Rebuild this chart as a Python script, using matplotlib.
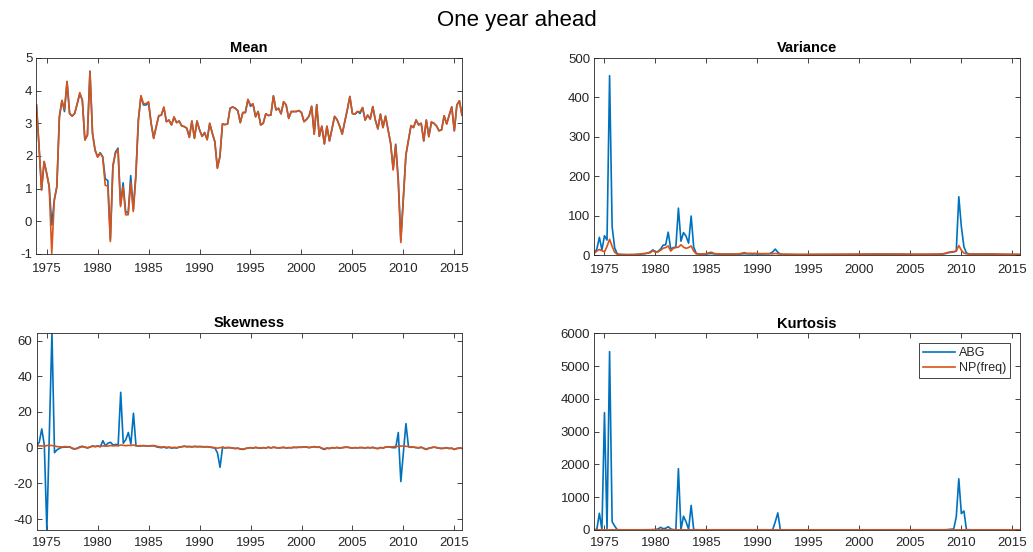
import numpy as np
import matplotlib
matplotlib.use('Agg')
import matplotlib.pyplot as plt

# quarterly forecasts, 1974Q1 .. 2015Q4, one row per year
start_year = 1974
n_years = 42

mean_abg = [
    3.56, 2.30, 0.96, 1.83,
    1.47, 1.06, -0.11, 0.65,
    1.06, 3.20, 3.70, 3.36,
    4.28, 3.30, 3.22, 3.30,
    3.60, 3.90, 3.72, 2.49,
    2.64, 4.60, 2.69, 2.18,
    1.98, 2.10, 1.98, 1.30,
    1.25, -0.55, 1.70, 2.12,
    2.24, 0.50, 1.18, 0.30,
    0.25, 1.40, 0.35, 1.40,
    3.10, 3.82, 3.56, 3.56,
    3.62, 3.00, 2.54, 2.90,
    3.23, 3.25, 3.48, 3.05,
    3.10, 2.95, 3.18, 3.02,
    3.07, 2.92, 2.90, 2.85,
    2.57, 3.07, 2.54, 3.07,
    2.80, 2.60, 2.72, 2.50,
    3.00, 2.70, 2.44, 1.64,
    1.98, 2.98, 2.96, 2.98,
    3.46, 3.50, 3.46, 3.39,
    3.02, 3.33, 3.33, 3.73,
    3.52, 3.58, 3.20, 3.36,
    2.95, 3.00, 3.29, 3.24,
    3.25, 3.84, 3.41, 3.46,
    3.29, 3.66, 3.56, 3.15,
    3.36, 3.36, 3.36, 3.39,
    3.33, 3.05, 3.12, 3.22,
    3.52, 2.67, 3.57, 2.60,
    2.91, 2.37, 2.91, 2.46,
    2.83, 3.21, 3.11, 2.91,
    2.67, 3.05, 3.41, 3.82,
    3.30, 3.28, 3.36, 3.30,
    3.48, 3.10, 3.25, 3.13,
    3.51, 3.10, 2.83, 3.28,
    2.87, 3.22, 2.80, 2.39,
    1.60, 2.36, 1.30, -0.58,
    0.75, 2.03, 2.49, 2.93,
    2.87, 3.10, 2.95, 3.00,
    2.46, 3.10, 2.59, 3.02,
    3.00, 2.92, 2.77, 2.80,
    3.23, 2.98, 3.25, 3.50,
    2.77, 3.56, 3.69, 3.25,
]

mean_np = [
    3.56, 2.30, 0.96, 1.83,
    1.47, 1.06, -0.98, 0.65,
    1.06, 3.20, 3.70, 3.42,
    4.28, 3.30, 3.22, 3.30,
    3.60, 3.94, 3.70, 2.49,
    2.64, 4.58, 2.69, 2.18,
    1.96, 2.08, 1.96, 1.10,
    1.08, -0.62, 1.67, 2.08,
    2.20, 0.45, 1.06, 0.20,
    0.20, 1.20, 0.30, 1.37,
    3.10, 3.85, 3.60, 3.60,
    3.66, 3.00, 2.54, 2.90,
    3.23, 3.25, 3.50, 3.05,
    3.10, 2.95, 3.20, 3.02,
    3.07, 2.92, 2.90, 2.85,
    2.57, 3.07, 2.54, 3.07,
    2.80, 2.60, 2.70, 2.50,
    3.00, 2.70, 2.44, 1.62,
    1.98, 2.98, 2.96, 2.98,
    3.46, 3.50, 3.46, 3.39,
    3.02, 3.33, 3.33, 3.73,
    3.56, 3.60, 3.20, 3.36,
    2.95, 3.00, 3.29, 3.24,
    3.25, 3.84, 3.41, 3.46,
    3.29, 3.66, 3.56, 3.15,
    3.36, 3.36, 3.36, 3.39,
    3.33, 3.05, 3.12, 3.22,
    3.52, 2.67, 3.57, 2.60,
    2.91, 2.37, 2.91, 2.46,
    2.83, 3.21, 3.11, 2.91,
    2.67, 3.05, 3.41, 3.82,
    3.30, 3.28, 3.36, 3.35,
    3.48, 3.10, 3.25, 3.13,
    3.51, 3.10, 2.83, 3.28,
    2.87, 3.22, 2.80, 2.39,
    1.57, 2.33, 1.20, -0.65,
    0.70, 2.03, 2.49, 2.93,
    2.87, 3.10, 2.95, 3.00,
    2.46, 3.10, 2.59, 3.05,
    3.00, 2.92, 2.77, 2.80,
    3.23, 2.98, 3.25, 3.50,
    2.77, 3.56, 3.69, 3.25,
]

var_abg = [
    5, 15, 45, 13,
    49, 38, 455, 72,
    18, 3, 1.5, 1.2,
    1.0, 0.8, 0.9, 1.0,
    1.2, 1.5, 2.0, 3.0,
    3.5, 5.0, 8.0, 13.0,
    8, 9, 15, 25,
    26, 58, 15, 19,
    20, 119, 35, 57,
    48, 30, 99, 20,
    4, 3, 2.5, 2.5,
    2.5, 3.5, 4.0, 3.0,
    2.5, 2.0, 2.0, 2.0,
    2.0, 2.0, 2.2, 2.0,
    2.0, 2.5, 3.0, 3.5,
    3.0, 3.0, 2.5, 3.0,
    2.5, 2.5, 2.8, 3.0,
    3.0, 4.0, 8.0, 15.0,
    7.0, 2.0, 1.5, 1.5,
    1.5, 1.2, 1.2, 1.0,
    1.0, 1.0, 0.9, 1.0,
    1.0, 1.1, 1.2, 1.2,
    1.2, 1.3, 1.2, 1.2,
    1.1, 1.2, 1.3, 1.3,
    1.3, 1.4, 1.4, 1.5,
    1.5, 1.5, 1.6, 1.6,
    1.6, 1.7, 1.8, 1.8,
    1.8, 2.0, 2.0, 2.0,
    2.0, 2.2, 2.2, 2.0,
    2.0, 2.2, 2.0, 1.8,
    1.8, 1.7, 1.6, 1.5,
    1.5, 1.5, 1.4, 1.4,
    1.5, 1.5, 1.5, 1.6,
    1.6, 1.7, 1.8, 2.0,
    2.0, 3.0, 4.0, 6.0,
    7.0, 8.0, 10.0, 148.0,
    72.0, 21.0, 5.0, 3.0,
    2.5, 2.5, 2.2, 2.2,
    2.2, 2.0, 2.2, 2.5,
    2.2, 2.0, 1.8, 1.8,
    1.6, 1.5, 1.5, 1.4,
    1.4, 1.3, 1.3, 1.3,
]

var_np = [
    5, 10, 14, 11,
    8, 22, 40, 22,
    7, 2, 1.5, 1.2,
    1.0, 1.0, 1.0, 1.1,
    1.3, 1.8, 2.5, 3.5,
    4, 5, 6, 11,
    7, 8, 12, 17,
    19, 23, 10, 17,
    19, 20, 26, 20,
    17, 19, 23, 10,
    3, 2.5, 2.5, 3,
    3.5, 6, 7, 4,
    3, 2.5, 2.5, 2.5,
    2.5, 2.5, 2.5, 2.5,
    2.5, 3, 5, 6,
    4, 4.5, 4, 4.5,
    4, 3.5, 3.5, 3.5,
    3.5, 3, 3, 4,
    3, 2.5, 2, 2,
    2, 1.8, 1.8, 1.6,
    1.6, 1.6, 1.5, 1.6,
    1.6, 1.7, 1.8, 1.8,
    1.8, 1.9, 1.8, 1.8,
    1.7, 1.8, 1.9, 1.9,
    1.9, 2.0, 2.0, 2.1,
    2.1, 2.1, 2.2, 2.2,
    2.2, 2.3, 2.4, 2.4,
    2.4, 2.6, 2.6, 2.6,
    2.6, 2.8, 2.8, 2.6,
    2.6, 2.8, 2.6, 2.4,
    2.4, 2.3, 2.2, 2.1,
    2.1, 2.1, 2.0, 2.0,
    2.1, 2.1, 2.1, 2.2,
    2.2, 2.3, 2.4, 2.5,
    2.5, 3.5, 5.0, 7.0,
    8.0, 8.5, 10.0, 24.0,
    12.0, 5.0, 3.0, 2.5,
    2.5, 2.5, 2.4, 2.4,
    2.4, 2.3, 2.5, 3.0,
    2.6, 2.4, 2.2, 2.2,
    2.0, 1.9, 1.9, 1.8,
    1.8, 1.7, 1.7, 1.7,
]

skew_abg = [
    1.0, 3.0, 10.5, 1.5,
    -46.1, 8.0, 64.4, -2.8,
    -1.2, -0.3, 0.2, 0.3,
    0.3, 0.5, -0.5, -0.8,
    -0.3, 0.5, 0.8, 0.2,
    -0.2, 0.4, 1.0, 0.6,
    1.0, 0.5, 3.9, 1.0,
    2.5, 3.0, 1.5, 1.8,
    1.5, 31.0, 2.5, 4.5,
    8.5, 2.0, 19.3, 1.0,
    1.0, 1.0, 1.2, 1.0,
    1.0, 1.0, 1.1, 0.5,
    0.2, 0.0, 0.3, -0.2,
    0.2, -0.3, 0.0, -0.2,
    0.3, 0.5, 0.8, 0.5,
    0.6, 0.4, 0.7, 0.5,
    0.6, 0.5, 0.4, 0.5,
    0.3, 0.0, -0.2, -3.0,
    -11.0, 0.3, -0.2, 0.0,
    0.0, -0.3, -0.5, -0.3,
    -0.8, -1.0, -0.5, -0.2,
    0.0, -0.3, 0.2, -0.2,
    -0.3, 0.0, -0.2, 0.3,
    -0.2, 0.3, 0.0, -0.2,
    0.0, 0.2, -0.2, 0.0,
    -0.1, 0.2, 0.1, 0.3,
    0.2, 0.5, 0.3, 0.0,
    0.3, 0.6, 0.2, 0.4,
    -0.5, -1.0, -0.3, -0.5,
    0.0, -0.2, 0.1, -0.3,
    0.0, 0.2, 0.3, 0.0,
    -0.2, 0.0, -0.1, 0.1,
    0.0, -0.2, 0.1, -0.1,
    0.2, -0.3, -0.5, 0.1,
    -0.2, 0.3, 0.5, 0.2,
    0.0, 0.0, 8.5, -19.0,
    -3.0, 13.5, 0.5, 0.2,
    0.3, 0.0, -0.2, 0.3,
    -0.5, -1.0, -0.3, 0.0,
    0.3, 0.0, -0.3, -0.5,
    -0.3, 0.0, -0.5, -0.3,
    -1.0, -0.5, -0.2, -0.4,
]

skew_np = [
    1.0, 1.0, 1.0, 0.8,
    1.2, 1.3, 1.2, 1.0,
    0.6, 0.5, 0.4, 0.6,
    0.5, 0.3, -0.3, -0.6,
    -0.4, 0.2, 0.5, 0.3,
    0.0, 0.4, 0.8, 0.6,
    0.8, 0.7, 1.0, 0.9,
    0.9, 1.2, 1.0, 1.1,
    1.0, 1.5, 1.3, 1.1,
    1.3, 1.2, 1.5, 1.1,
    1.0, 1.1, 1.0, 1.0,
    1.0, 1.1, 1.2, 0.8,
    0.5, 0.3, 0.5, 0.2,
    0.3, 0.0, 0.2, 0.0,
    0.3, 0.6, 0.8, 0.6,
    0.7, 0.5, 0.7, 0.6,
    0.6, 0.6, 0.5, 0.6,
    0.4, 0.2, 0.0, -0.3,
    0.0, 0.2, -0.1, 0.1,
    0.0, -0.2, -0.4, -0.3,
    -0.7, -0.8, -0.5, -0.2,
    0.0, -0.2, 0.1, -0.1,
    -0.2, 0.0, -0.2, 0.2,
    -0.1, 0.2, 0.0, -0.1,
    0.0, 0.1, -0.1, 0.0,
    0.0, 0.2, 0.1, 0.2,
    0.2, 0.4, 0.3, 0.1,
    0.3, 0.5, 0.2, 0.3,
    -0.3, -0.6, -0.2, -0.4,
    0.0, -0.1, 0.1, -0.2,
    0.0, 0.2, 0.2, 0.0,
    -0.2, 0.0, -0.1, 0.0,
    0.0, -0.1, 0.1, -0.1,
    0.1, -0.3, -0.5, 0.0,
    -0.2, 0.3, 0.5, 0.4,
    0.5, 0.7, 0.8, 0.9,
    0.9, 0.8, 0.6, 0.4,
    0.3, 0.1, 0.0, 0.2,
    -0.3, -0.8, -0.3, 0.0,
    0.3, 0.1, -0.2, -0.4,
    -0.3, -0.1, -0.4, -0.3,
    -0.9, -0.4, -0.3, -0.3,
]

kurt_abg = [
    10, 20, 510, 5,
    3580, 5, 5440, 255,
    120, 8, 5, 5,
    4, 4, 4, 4,
    5, 5, 6, 6,
    6, 6, 8, 10,
    15, 30, 80, 40,
    50, 100, 30, 10,
    10, 1870, 10, 420,
    250, 20, 750, 10,
    6, 5, 5, 5,
    5, 6, 6, 5,
    5, 4, 4, 4,
    4, 4, 5, 4,
    5, 5, 6, 5,
    5, 5, 5, 5,
    5, 5, 5, 5,
    5, 6, 10, 250,
    520, 6, 5, 4,
    4, 4, 4, 4,
    4, 5, 4, 4,
    4, 4, 4, 4,
    4, 4, 4, 4,
    4, 4, 4, 4,
    4, 4, 4, 4,
    4, 4, 4, 4,
    4, 4, 4, 4,
    4, 5, 4, 5,
    5, 6, 5, 5,
    5, 5, 5, 5,
    4, 4, 4, 4,
    4, 4, 4, 4,
    4, 4, 4, 4,
    4, 5, 5, 4,
    5, 6, 8, 15,
    20, 30, 400, 1560,
    500, 580, 10, 6,
    5, 5, 5, 5,
    5, 6, 5, 5,
    5, 5, 5, 5,
    4, 4, 5, 5,
    6, 5, 5, 5,
]

kurt_np = [
    4, 4, 5, 4,
    5, 5, 6, 5,
    4, 3, 3, 3,
    3, 3, 3, 3,
    3, 3, 3, 3,
    3, 3, 4, 4,
    4, 4, 4, 4,
    4, 5, 4, 4,
    4, 5, 4, 5,
    5, 4, 5, 4,
    3, 3, 3, 3,
    3, 4, 4, 3,
    3, 3, 3, 3,
    3, 3, 3, 3,
    3, 3, 4, 4,
    3, 3, 3, 3,
    3, 3, 3, 3,
    3, 3, 3, 4,
    4, 3, 3, 3,
    3, 3, 3, 3,
    3, 3, 3, 3,
    3, 3, 3, 3,
    3, 3, 3, 3,
    3, 3, 3, 3,
    3, 3, 3, 3,
    3, 3, 3, 3,
    3, 3, 3, 3,
    3, 3, 3, 3,
    3, 4, 3, 3,
    3, 3, 3, 3,
    3, 3, 3, 3,
    3, 3, 3, 3,
    3, 3, 3, 3,
    3, 3, 3, 3,
    3, 3, 4, 4,
    4, 4, 5, 6,
    5, 4, 3, 3,
    3, 3, 3, 3,
    3, 3, 3, 3,
    3, 3, 3, 3,
    3, 3, 3, 3,
    3, 3, 3, 3,
]

dates = start_year + np.arange(n_years * 4) / 4.0

c_abg = '#0072BD'
c_np = '#D95319'
axcol = '0.15'

plt.rcParams['font.family'] = ['Liberation Sans', 'DejaVu Sans']
plt.rcParams['axes.unicode_minus'] = False

fig = plt.figure(figsize=(10.33, 5.52), dpi=100)

panels = [
    ('Mean', mean_abg, mean_np, (-1, 5), np.arange(-1, 6, 1),
     [0.0353, 0.5399, 0.4119, 0.3551], 6.5),
    ('Variance', var_abg, var_np, (0, 500), np.arange(0, 501, 100),
     [0.5753, 0.5380, 0.4121, 0.3569], 6.5),
    ('Skewness', skew_abg, skew_np, (-46.1, 64.4), np.arange(-40, 61, 20),
     [0.0355, 0.0399, 0.4117, 0.3574], 5),
    ('Kurtosis', kurt_abg, kurt_np, (0, 6000), np.arange(0, 6001, 1000),
     [0.5753, 0.0399, 0.4121, 0.3563], 5),
]

for title, abg, npf, ylim, yticks, pos, xpad in panels:
    ax = fig.add_axes(pos)
    ax.plot(dates, abg, color=c_abg, lw=1.2, label='ABG')
    ax.plot(dates, npf, color=c_np, lw=1.2, label='NP(freq)')
    ax.set_xlim(dates[0], dates[-1])
    ax.set_ylim(*ylim)
    ax.set_xticks(np.arange(1975, 2016, 5))
    ax.set_yticks(yticks)
    ax.set_title(title, fontsize=10.5, fontweight='bold', pad=4)
    ax.tick_params(direction='in', top=True, right=True, length=3.5, width=0.6,
                   colors=axcol, labelsize=9.5)
    ax.tick_params(axis='x', pad=xpad)
    ax.tick_params(axis='y', pad=3)
    for sp in ax.spines.values():
        sp.set_color(axcol)
        sp.set_linewidth(0.6)
    if title == 'Kurtosis':
        leg = ax.legend(loc='upper right', bbox_to_anchor=(0.9765, 0.949), fontsize=9,
                        handlelength=2.6, fancybox=False, framealpha=1,
                        borderaxespad=0, borderpad=0.3, labelspacing=0.25,
                        handletextpad=0.3)
        leg.get_frame().set_edgecolor(axcol)
        leg.get_frame().set_linewidth(0.6)
        for t in leg.get_texts():
            t.set_color(axcol)

fig.suptitle('One year ahead', fontsize=16, y=0.982)

fig.savefig('out.png', dpi=100)
